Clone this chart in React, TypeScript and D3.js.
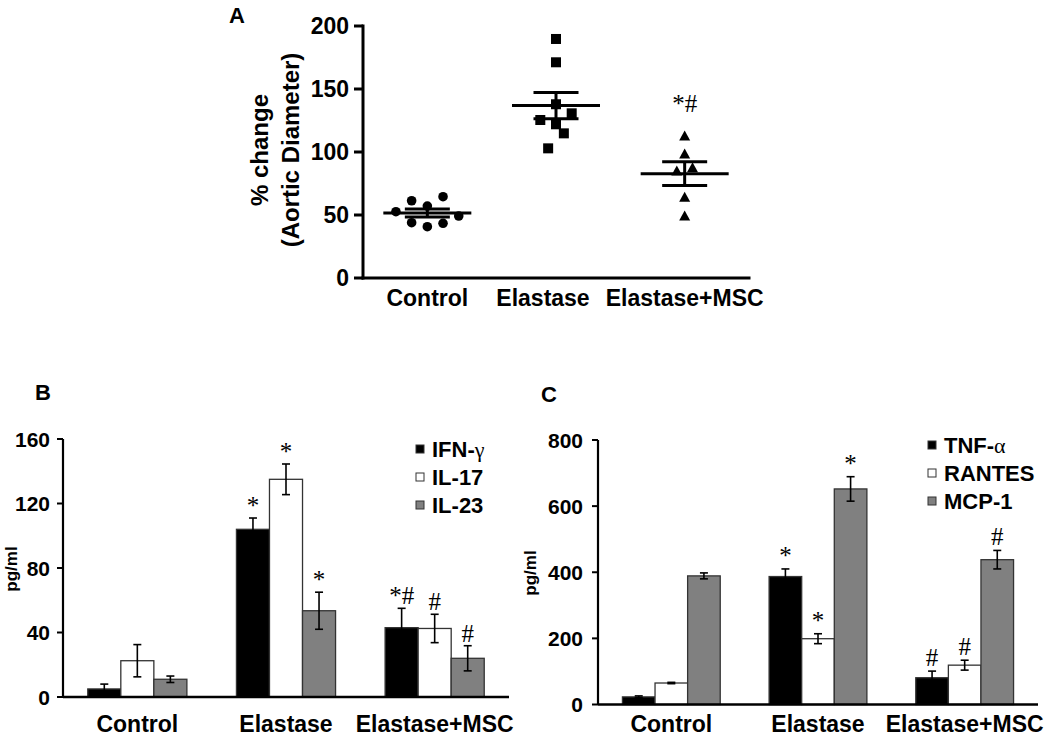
import React from "react";
import * as d3 from "d3";

// ---------- Panel A data ----------
const aCategories = ["Control", "Elastase", "Elastase+MSC"];
const aControl = [52.6, 61.3, 43.9, 57.1, 40.7, 64.5, 43.4, 49.2];
const aControlSlots = [-2, -1, -1, 0, 0, 1, 1, 2];
const aElastase = [189.7, 171.2, 137.9, 125.4, 122.0, 130.7, 114.8, 102.9];
const aElastaseSlots = [0, 0, 0, -1, 0, 1, 0.5, -0.5];
const aMSC = [112.7, 98.4, 87.5, 84.9, 64.0, 49.2];
const aMSCSlots = [0, 0, 0.5, -0.5, 0, 0];
const aTicks = [0, 50, 100, 150, 200];
const aAnnot = ["", "", "*#"];

// ---------- Panel B data ----------
const bCategories = ["Control", "Elastase", "Elastase+MSC"];
const bSeries = ["IFN-γ", "IL-17", "IL-23"];
const bIFN = [5, 104, 43];
const bIFNErr = [3, 7, 12];
const bIL17 = [22.5, 135, 42.5];
const bIL17Err = [10, 9.5, 8.8];
const bIL23 = [11, 53.5, 24];
const bIL23Err = [2, 11.5, 7.8];
const bIFNAnnot = ["", "*", "*#"];
const bIL17Annot = ["", "*", "#"];
const bIL23Annot = ["", "*", "#"];
const bTicks = [0, 40, 80, 120, 160];

// ---------- Panel C data ----------
const cCategories = ["Control", "Elastase", "Elastase+MSC"];
const cSeries = ["TNF-α", "RANTES", "MCP-1"];
const cTNF = [23, 387, 81];
const cTNFErr = [3, 23, 20];
const cRANTES = [65, 199, 119];
const cRANTESErr = [2, 15, 15];
const cMCP = [389, 652, 438];
const cMCPErr = [9, 37, 28];
const cTNFAnnot = ["", "*", "#"];
const cRANTESAnnot = ["", "*", "#"];
const cMCPAnnot = ["", "*", "#"];
const cTicks = [0, 200, 400, 600, 800];

const SANS = "'Liberation Sans', Arial, Helvetica, sans-serif";
const SERIF = "'Liberation Serif', 'Times New Roman', serif";
const FILLS = ["#000000", "#ffffff", "#808080"];

function mean(a: number[]) {
  return d3.mean(a) as number;
}
function sem(a: number[]) {
  return (d3.deviation(a) as number) / Math.sqrt(a.length);
}

function PanelA() {
  const x = d3.scaleBand<string>().domain(aCategories).range([363, 749]);
  const y = d3.scaleLinear().domain([0, 200]).range([278, 26]);
  const groups = [
    { vals: aControl, slots: aControlSlots, shape: "circle" },
    { vals: aElastase, slots: aElastaseSlots, shape: "square" },
    { vals: aMSC, slots: aMSCSlots, shape: "triangle" },
  ];
  const step = 15.7;
  const labelDx = [0, -13, 0];
  return (
    <g>
      <text x={229} y={23} fontFamily={SANS} fontWeight="bold" fontSize={22} fill="#000">A</text>
      <line x1={363} x2={363} y1={y(200)} y2={y(0)} stroke="#000" strokeWidth={3} strokeLinecap="square" />
      <line x1={363} x2={749} y1={y(0)} y2={y(0)} stroke="#000" strokeWidth={3} strokeLinecap="square" />
      {aTicks.map((t) => (
        <g key={t}>
          <line x1={354} x2={363} y1={y(t)} y2={y(t)} stroke="#000" strokeWidth={3} />
          <text x={349} y={y(t)} dy="0.36em" textAnchor="end" fontFamily={SANS} fontWeight="bold" fontSize={23} fill="#000">{t}</text>
        </g>
      ))}
      {aCategories.map((c, i) => (
        <text key={c} x={(x(c) as number) + x.bandwidth() / 2 + labelDx[i]} y={306} textAnchor="middle" fontFamily={SANS} fontWeight="bold" fontSize={23} fill="#000">{c}</text>
      ))}
      <text transform="translate(268,150) rotate(-90)" textAnchor="middle" fontFamily={SANS} fontWeight="bold" fontSize={24} fill="#000">% change</text>
      <text transform="translate(299,150) rotate(-90)" textAnchor="middle" fontFamily={SANS} fontWeight="bold" fontSize={24} fill="#000">(Aortic Diameter)</text>
      {groups.map((g, gi) => {
        const cx = (x(aCategories[gi]) as number) + x.bandwidth() / 2;
        const m = mean(g.vals);
        const s = sem(g.vals);
        return (
          <g key={gi}>
            {g.vals.map((v, i) => {
              const px = cx + g.slots[i] * step;
              const py = y(v);
              if (g.shape === "circle") return <circle key={i} cx={px} cy={py} r={4.8} fill="#000" />;
              if (g.shape === "square") return <rect key={i} x={px - 5} y={py - 5} width={10} height={10} fill="#000" />;
              return <path key={i} d={`M${px},${py - 5.5}L${px + 5.5},${py + 4.5}L${px - 5.5},${py + 4.5}Z`} fill="#000" />;
            })}
            <line x1={cx - 44} x2={cx + 44} y1={y(m)} y2={y(m)} stroke="#000" strokeWidth={3} />
            <line x1={cx - 22.5} x2={cx + 22.5} y1={y(m + s)} y2={y(m + s)} stroke="#000" strokeWidth={3} />
            <line x1={cx - 22.5} x2={cx + 22.5} y1={y(m - s)} y2={y(m - s)} stroke="#000" strokeWidth={3} />
            <line x1={cx} x2={cx} y1={y(m + s)} y2={y(m - s)} stroke="#000" strokeWidth={3} />
            {aAnnot[gi] && (
              <text x={cx} y={y(d3.max(g.vals) as number) - 24} textAnchor="middle" fontFamily={SERIF} fontSize={25} fill="#000" opacity={0.999}>{aAnnot[gi]}</text>
            )}
          </g>
        );
      })}
    </g>
  );
}

type BarProps = {
  label: string;
  labelX: number;
  labelY: number;
  cats: string[];
  series: string[];
  values: number[][];
  errs: number[][];
  annots: string[][];
  ticks: number[];
  xRange: [number, number];
  yRange: [number, number];
  yMax: number;
  ytitleX: number;
  ytitleY: number;
  legendX: number;
  legendY: number;
  legendStep: number;
  tickGap: number;
  annotGap: number;
};

function BarPanel(p: BarProps) {
  const x0 = d3.scaleBand<string>().domain(p.cats).range(p.xRange).paddingInner(0).paddingOuter(0);
  const x1 = d3.scaleBand<string>().domain(p.series).range([0, x0.bandwidth()]).paddingInner(0).paddingOuter(0.75);
  const y = d3.scaleLinear().domain([0, p.yMax]).range(p.yRange);
  const ax = p.xRange[0];
  return (
    <g>
      <text x={p.labelX} y={p.labelY} fontFamily={SANS} fontWeight="bold" fontSize={22} fill="#000">{p.label}</text>
      <text transform={`translate(${p.ytitleX},${p.ytitleY}) rotate(-90)`} textAnchor="middle" fontFamily={SANS} fontWeight="bold" fontSize={17} fill="#000">pg/ml</text>
      {p.series.map((s, si) =>
        p.cats.map((c, ci) => {
          const v = p.values[si][ci];
          const e = p.errs[si][ci];
          const bx = (x0(c) as number) + (x1(s) as number);
          const bw = x1.bandwidth();
          const cx = bx + bw / 2;
          return (
            <g key={s + c}>
              <rect x={bx} y={y(v)} width={bw} height={y(0) - y(v)} fill={FILLS[si]} stroke="#333" strokeWidth={1.3} />
              <line x1={cx} x2={cx} y1={y(v + e)} y2={y(Math.max(0, v - e))} stroke="#000" strokeWidth={1.6} />
              <line x1={cx - 4} x2={cx + 4} y1={y(v + e)} y2={y(v + e)} stroke="#000" strokeWidth={1.6} />
              <line x1={cx - 4} x2={cx + 4} y1={y(Math.max(0, v - e))} y2={y(Math.max(0, v - e))} stroke="#000" strokeWidth={1.6} />
              {p.annots[si][ci] && (
                <text x={cx} y={y(v + e) - p.annotGap} textAnchor="middle" fontFamily={SERIF} fontSize={25} fill="#000" opacity={0.999}>{p.annots[si][ci]}</text>
              )}
            </g>
          );
        })
      )}
      <line x1={ax} x2={ax} y1={y(p.yMax)} y2={y(0)} stroke="#000" strokeWidth={2.2} />
      <line x1={ax} x2={p.xRange[1]} y1={y(0)} y2={y(0)} stroke="#000" strokeWidth={2.4} />
      {p.ticks.map((t) => (
        <g key={t}>
          <line x1={ax - 6} x2={ax} y1={y(t)} y2={y(t)} stroke="#000" strokeWidth={2} />
          <text x={ax - p.tickGap} y={y(t)} dy="0.36em" textAnchor="end" fontFamily={SANS} fontWeight="bold" fontSize={21} fill="#000">{t}</text>
        </g>
      ))}
      {p.cats.map((c) => (
        <text key={c} x={(x0(c) as number) + x0.bandwidth() / 2} y={732} textAnchor="middle" fontFamily={SANS} fontWeight="bold" fontSize={23} fill="#000">{c}</text>
      ))}
      {p.series.map((s, si) => {
        const ly = p.legendY + si * p.legendStep;
        const m = s.match(/^(.*-)([αγ])$/);
        return (
          <g key={s}>
            <rect x={p.legendX} y={ly - 4} width={8} height={8} fill={FILLS[si]} stroke="#333" strokeWidth={1} />
            <text x={p.legendX + 16} y={ly} dy="0.36em" fontFamily={SANS} fontWeight="bold" fontSize={22} fill="#000">
              {m ? (
                <>
                  {m[1]}
                  <tspan fontFamily={SERIF} fontWeight="normal">{m[2]}</tspan>
                </>
              ) : s}
            </text>
          </g>
        );
      })}
    </g>
  );
}

export default function App() {
  return (
    <svg width={1050} height={739} style={{ position: "absolute", left: 0, top: 0, background: "#fff" }}>
      <rect width={1050} height={739} fill="#fff" />
      <PanelA />
      <BarPanel
        label="B" labelX={35} labelY={400}
        cats={bCategories} series={bSeries}
        values={[bIFN, bIL17, bIL23]} errs={[bIFNErr, bIL17Err, bIL23Err]}
        annots={[bIFNAnnot, bIL17Annot, bIL23Annot]}
        ticks={bTicks} xRange={[63, 509]} yRange={[697, 439]} yMax={160}
        ytitleX={17} ytitleY={569}
        legendX={416} legendY={449} legendStep={28}
        tickGap={13} annotGap={4}
      />
      <BarPanel
        label="C" labelX={541} labelY={402}
        cats={cCategories} series={cSeries}
        values={[cTNF, cRANTES, cMCP]} errs={[cTNFErr, cRANTESErr, cMCPErr]}
        annots={[cTNFAnnot, cRANTESAnnot, cMCPAnnot]}
        ticks={cTicks} xRange={[598, 1038]} yRange={[704.5, 440]} yMax={800}
        ytitleX={536} ytitleY={573}
        legendX={928} legendY={445} legendStep={28}
        tickGap={15} annotGap={5}
      />
    </svg>
  );
}
